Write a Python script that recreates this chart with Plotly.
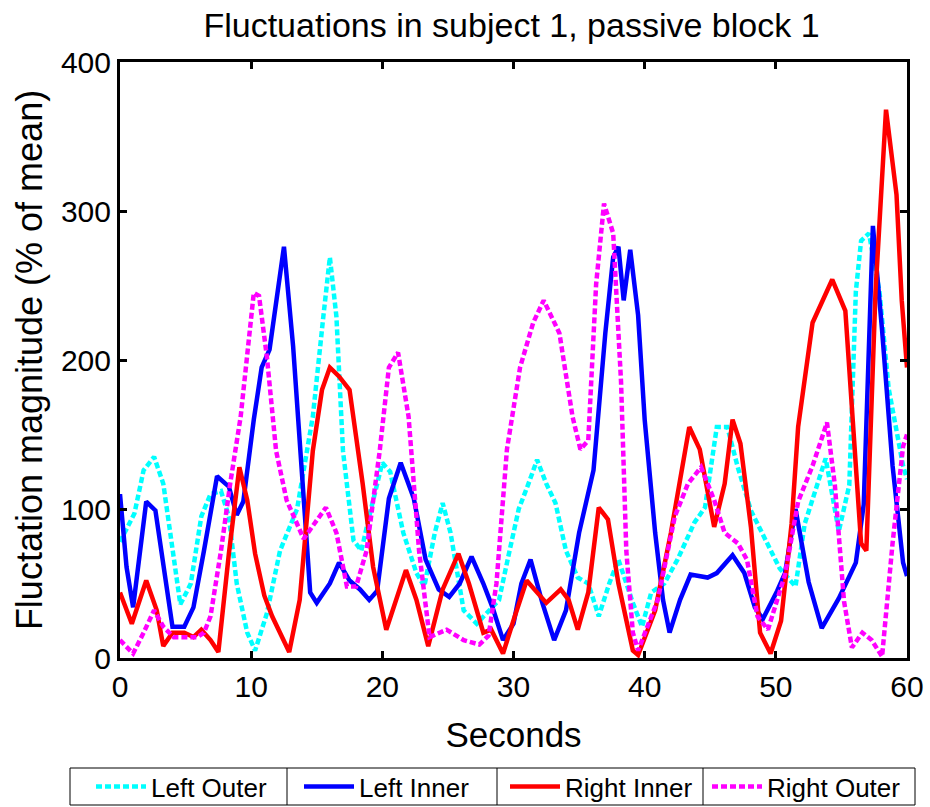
import plotly.graph_objects as go

# ---- data ----
lo_t = [0, 1.1, 1.8, 2.6, 3.3, 4.0, 4.6, 5.4, 6.2, 6.9, 7.7, 8.3, 8.9, 9.7, 10.3, 11.2, 12.2, 13.5,
        14.7, 15.5, 16.0, 16.5, 17.0, 17.8, 18.4, 19.0, 20.0, 20.6, 21.6, 22.6, 23.2, 24.0, 24.6, 25.2,
        26.2, 27.2, 28.1, 28.9, 29.7, 30.4, 31.1, 31.8, 32.5, 33.2, 34.0, 34.9, 35.7, 36.5, 37.3, 38.0,
        39.1, 39.8, 40.5, 41.5, 42.5, 43.8, 44.6, 45.5, 46.3, 47.1, 48.1, 49.1, 50.3, 51.5, 52.2, 53.8,
        54.8, 55.6, 56.1, 56.5, 57.1, 57.9, 58.6, 59.7, 60]
lo_v = [78, 97, 126, 135, 117, 72, 36, 50, 95, 110, 112, 95, 50, 17, 5, 30, 72, 100,
        162, 229, 269, 229, 139, 79, 72, 95, 131, 125, 84, 57, 48, 84, 104, 84,
        32, 23, 32, 39, 72, 100, 116, 133, 117, 104, 72, 54, 50, 28, 50, 66,
        37, 21, 44, 50, 66, 91, 101, 155, 155, 128, 99, 81, 60, 48, 90, 134,
        85, 116, 246, 280, 285, 246, 181, 129, 120]

li_t = [0, 0.5, 1.0, 2.0, 2.7, 3.3, 4.0, 4.9, 5.6, 6.4, 7.4, 8.3, 8.9, 9.4, 10.2, 10.8, 11.4, 12.5,
        13.2, 14.1, 14.5, 15.0, 16.0, 16.7, 17.5, 18.3, 19.0, 19.6, 20.5, 21.4, 22.4, 23.3, 24.3, 25.1,
        25.9, 26.8, 27.7, 28.4, 29.2, 30.0, 30.6, 31.3, 32.2, 33.1, 34.0, 35.0, 36.1, 37.0, 37.6, 38.0,
        38.4, 38.9, 39.5, 40.0, 40.8, 41.4, 41.9, 42.7, 43.5, 44.8, 45.5, 46.7, 47.6, 48.4, 49.0, 50.1,
        50.7, 51.5, 52.5, 53.5, 54.8, 56.1, 56.7, 57.4, 58.1, 58.9, 59.7, 60]
li_v = [110, 61, 34, 105, 99, 61, 21, 21, 34, 72, 122, 115, 96, 105, 160, 195, 207, 276,
        209, 95, 44, 37, 50, 64, 52, 46, 39, 45, 107, 131, 107, 66, 46, 41,
        50, 68, 50, 34, 12, 23, 50, 66, 37, 12, 32, 84, 126, 218, 269, 276,
        240, 274, 230, 160, 84, 39, 17, 39, 56, 54, 57, 69, 57, 34, 26, 45,
        57, 100, 51, 20, 40, 64, 103, 290, 220, 129, 64, 55]

ri_t = [0, 0.9, 2.0, 2.8, 3.3, 4.0, 4.9, 5.6, 6.2, 6.9, 7.5, 8.3, 9.1, 9.7, 10.3, 11.0, 11.6, 12.9,
        13.7, 14.7, 15.4, 16.0, 16.7, 17.5, 18.5, 19.3, 20.3, 21.8, 22.6, 23.5, 24.6, 25.8, 26.6, 27.7,
        28.3, 29.2, 30.1, 31.0, 32.5, 33.6, 34.2, 34.9, 35.7, 36.5, 37.2, 38.0, 39.1, 39.5, 40.8, 42.0,
        43.4, 44.2, 45.3, 46.1, 46.7, 47.3, 48.1, 48.8, 49.6, 50.4, 51.2, 51.7, 52.8, 54.3, 55.3, 55.8,
        56.5, 56.9, 57.6, 58.4, 59.2, 59.6, 60]
ri_v = [44, 23, 52, 32, 8, 17, 17, 14, 19, 12, 4, 70, 128, 106, 70, 42, 28, 4,
        39, 139, 180, 195, 189, 180, 117, 61, 19, 59, 39, 8, 46, 70, 50, 17,
        19, 3, 28, 52, 37, 46, 39, 19, 44, 101, 93, 50, 5, 2, 32, 84,
        155, 140, 88, 117, 160, 144, 88, 17, 3, 25, 90, 155, 225, 254, 233, 168,
        77, 72, 246, 368, 311, 240, 195]

ro_t = [0, 1.0, 1.8, 2.6, 3.3, 4.1, 4.9, 5.9, 6.4, 6.9, 7.7, 8.4, 9.2, 9.7, 10.2, 10.6, 11.2, 11.9,
        12.7, 14.0, 15.0, 15.7, 16.5, 17.3, 18.0, 18.8, 19.8, 20.5, 21.2, 22.0, 22.8, 23.6, 24.9, 26.2,
        27.4, 28.1, 28.7, 29.5, 30.5, 31.5, 32.3, 33.5, 34.5, 35.1, 35.7, 36.3, 36.9, 37.6, 38.2, 38.6,
        39.1, 39.5, 41.0, 42.3, 43.3, 44.3, 45.3, 46.1, 47.1, 47.8, 48.6, 49.4, 50.7, 51.7, 52.8, 53.9,
        54.5, 55.2, 55.8, 56.6, 57.3, 58.1, 58.9, 59.7, 60]
ro_v = [12, 3, 17, 32, 21, 14, 14, 14, 17, 28, 72, 117, 162, 207, 245, 243, 202, 139,
        106, 80, 92, 101, 84, 48, 48, 72, 139, 195, 205, 162, 72, 14, 19, 12,
        9, 15, 50, 140, 195, 225, 240, 218, 162, 140, 146, 251, 305, 285, 185, 72,
        17, 5, 39, 95, 117, 128, 106, 84, 77, 66, 28, 19, 56, 105, 129, 158,
        116, 38, 7, 17, 12, 1, 77, 142, 150]

series_names = ["Left Outer", "Left Inner", "Right Inner", "Right Outer"]
x_ticks = [0, 10, 20, 30, 40, 50, 60]
y_ticks = [0, 100, 200, 300, 400]

FONT = "Liberation Sans, Arial, Helvetica, sans-serif"

# figure geometry (pixels)
W, H = 930, 807
ML, MR, MT, MB = 120, 23, 62, 149
PW, PH = W - ML - MR, H - MT - MB


def px_x(p):
    return (p - ML) / PW


def px_y(p):
    return (H - MB - p) / PH


# legend frame: box and cell separators, one legend per cell
box_l, box_r, box_t, box_b = 70, 915, 768, 805
seps = [287, 497, 703]
legend_left = [91, 299, 505, 707]
legend_ids = ["legend", "legend2", "legend3", "legend4"]

fig = go.Figure()
styles = [
    (lo_t, lo_v, "#00FFFF", "6px,3px"),
    (li_t, li_v, "#0000FF", "solid"),
    (ri_t, ri_v, "#FF0000", "solid"),
    (ro_t, ro_v, "#FF00FF", "6px,3px"),
]
for name, lid, (t, v, col, dash) in zip(series_names, legend_ids, styles):
    fig.add_trace(go.Scatter(x=t, y=v, mode="lines", name=name, legend=lid,
                             line=dict(color=col, width=4.5, dash=dash)))

axis_common = dict(showgrid=False, zeroline=False, showline=True, linecolor="black",
                   linewidth=3, mirror="ticks", ticks="inside", ticklen=7, tickwidth=3,
                   tickcolor="black", tickfont=dict(family=FONT, size=30, color="black"),
                   automargin=False)

shapes = [dict(type="rect", xref="paper", yref="paper",
               x0=px_x(box_l), x1=px_x(box_r), y0=px_y(box_b), y1=px_y(box_t),
               line=dict(color="black", width=1), fillcolor="rgba(0,0,0,0)", layer="above")]
for s in seps:
    shapes.append(dict(type="line", xref="paper", yref="paper",
                       x0=px_x(s), x1=px_x(s), y0=px_y(box_b), y1=px_y(box_t),
                       line=dict(color="black", width=1)))

legend_layout = {}
for lid, lx in zip(legend_ids, legend_left):
    legend_layout[lid] = dict(orientation="h", x=px_x(lx), xanchor="left", yref="container",
                              y=1 - (box_t + box_b) / 2 / H, yanchor="middle",
                              borderwidth=0, bgcolor="rgba(0,0,0,0)",
                              font=dict(family=FONT, size=26, color="black"),
                              itemwidth=50, tracegroupgap=0)

fig.update_layout(
    width=W, height=H,
    margin=dict(l=ML, r=MR, t=MT, b=MB),
    paper_bgcolor="white", plot_bgcolor="white",
    font=dict(family=FONT, color="black"),
    title=dict(text="Fluctuations in subject 1, passive block 1", x=0.55, xanchor="center",
               y=0.969, yanchor="middle", yref="container",
               font=dict(family=FONT, size=34, color="black")),
    xaxis=dict(range=[0, 60], tickvals=x_ticks, **axis_common,
               title=dict(text="Seconds", font=dict(family=FONT, size=35), standoff=21)),
    yaxis=dict(range=[0, 400], tickvals=y_ticks, **axis_common,
               title=dict(text="Fluctation magnitude (% of mean)", font=dict(family=FONT, size=36),
                          standoff=8)),
    showlegend=True,
    shapes=shapes,
    **legend_layout,
)

fig.write_html("out.html")
